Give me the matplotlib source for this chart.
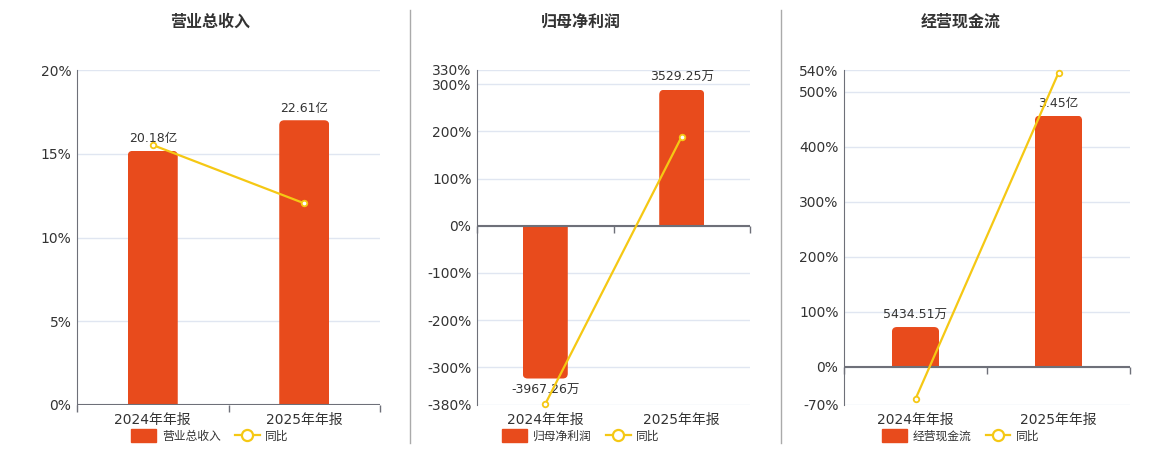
import matplotlib.pyplot as plt
from matplotlib.lines import Line2D
from matplotlib.patches import Patch, FancyBboxPatch, Rectangle
import numpy as np

plt.rcParams['font.family'] = ['DejaVu Sans', 'Noto Sans CJK SC']

periods = ['2024年年报', '2025年年报']

revenue = [20.18, 22.61]  # 亿
revenue_labels = ['20.18亿', '22.61亿']
revenue_yoy = [15.52, 12.04]

profit = [-3967.26, 3529.25]  # 万
profit_labels = ['-3967.26万', '3529.25万']
profit_yoy = [-378.0, 188.96]

cash = [5434.51, 34500.0]  # 万
cash_labels = ['5434.51万', '3.45亿']
cash_yoy = [-59.0, 534.82]

BAR_COLOR = '#E84B1C'
LINE_COLOR = '#F5C814'
AXIS_COLOR = '#6E7079'
GRID_COLOR = '#E0E6F1'
TEXT_COLOR = '#333333'

panels = [
    # title, values, labels, yoy, pct ticks, bar scale (value per 1%), axes left/width px, center x
    ('营业总收入', revenue, revenue_labels, revenue_yoy,
     [0, 5, 10, 15, 20], 1.33, [77, 303], 210),
    ('归母净利润', profit, profit_labels, profit_yoy,
     [-380, -300, -200, -100, 0, 100, 200, 300, 330], 12.25, [477, 273], 581),
    ('经营现金流', cash, cash_labels, cash_yoy,
     [-70, 0, 100, 200, 300, 400, 500, 540], 75.5, [844, 286], 961),
]

W, H = 1160, 450
AX_H = 335
fig = plt.figure(figsize=(W / 100, H / 100), dpi=100)


def rounded_bars(ax, bars, width_px, yrange, radius_px=5):
    # swap plain bars for ones with rounded outer corners only
    xu = (ax.get_xlim()[1] - ax.get_xlim()[0]) / width_px
    yu = yrange / AX_H
    ext = 2 * radius_px * yu
    for b in bars:
        bx, by, bw, bh = b.get_x(), b.get_y(), b.get_width(), b.get_height()
        b.set_visible(False)
        if bh >= 0:
            y0, h = by - ext, bh + ext
        else:
            y0, h = by + bh, -bh + ext
        p = FancyBboxPatch((bx, y0), bw, h,
                           boxstyle=f'round,pad=0,rounding_size={radius_px * xu}',
                           mutation_aspect=yu / xu, facecolor=BAR_COLOR,
                           edgecolor='none', zorder=2)
        ax.add_patch(p)
        clip = Rectangle((bx, by), bw, bh, transform=ax.transData)
        p.set_clip_path(clip)


for title, values, labels, yoy, ticks, scale, (left, width), cx in panels:
    ax = fig.add_axes([left / W, 0.1, width / W, AX_H / H])
    lo, hi = ticks[0], ticks[-1]
    x = np.arange(len(periods))

    # bar axis (hidden scale), grid drawn here so it stays under the bars
    ax.set_xlim(-0.5, len(periods) - 0.5)
    ax.set_ylim(lo * scale, hi * scale)
    ax.set_yticks([t * scale for t in ticks])
    ax.yaxis.grid(True, color=GRID_COLOR, linewidth=1)
    ax.set_axisbelow(True)
    ax.tick_params(axis='y', length=0, labelleft=False)
    for s in ax.spines.values():
        s.set_visible(False)
    bars = ax.bar(x, values, width=0.33, color=BAR_COLOR, zorder=2)
    rounded_bars(ax, bars, width, (hi - lo) * scale)
    for xi, v, lab in zip(x, values, labels):
        off = 4 if v >= 0 else -4
        ax.annotate(lab, (xi, v), xytext=(0, off), textcoords='offset points',
                    ha='center', va='bottom' if v >= 0 else 'top',
                    fontsize=9, color=TEXT_COLOR, zorder=4)
    ax.set_xticks(x)
    ax.set_xticklabels(periods, fontsize=10, color=TEXT_COLOR)
    ax.tick_params(axis='x', length=0, pad=6)

    # zero axis line with small ticks at category boundaries
    ax.axhline(0, color=AXIS_COLOR, linewidth=1.5, zorder=3)
    bounds = np.arange(len(periods) + 1) - 0.5
    ax.plot(bounds, np.zeros_like(bounds), linestyle='none', marker=3, markersize=5,
            markeredgewidth=1, color=AXIS_COLOR, clip_on=False, zorder=3)

    # percentage axis for the yoy line
    ax2 = ax.twinx()
    ax2.set_ylim(lo, hi)
    ax2.set_yticks(ticks)
    ax2.set_yticklabels([f'{t}%' for t in ticks], fontsize=10, color=TEXT_COLOR)
    ax2.yaxis.tick_left()
    ax2.tick_params(axis='y', length=0, pad=4)
    for k, s in ax2.spines.items():
        s.set_visible(k == 'left')
    ax2.spines['left'].set_color(AXIS_COLOR)
    ax2.plot(x, yoy, color=LINE_COLOR, linewidth=1.6, marker='o', markersize=4,
             markerfacecolor='white', markeredgecolor=LINE_COLOR, markeredgewidth=1.3,
             clip_on=False)

    fig.text(cx / W, 1 - 22 / H, title, ha='center', va='center',
             fontsize=11.5, fontweight='bold', color=TEXT_COLOR)

    handles = [Patch(facecolor=BAR_COLOR, edgecolor=BAR_COLOR),
               Line2D([], [], color=LINE_COLOR, linewidth=1.6, marker='o', markersize=8,
                      markerfacecolor='white', markeredgewidth=1.6)]
    fig.legend(handles, [title, '同比'], loc='center', bbox_to_anchor=(cx / W, 1 - 436 / H),
               ncol=2, frameon=False, fontsize=8.5, handlelength=2.1, handleheight=1.3,
               handletextpad=0.5, columnspacing=1.2, labelcolor=TEXT_COLOR)

# separators between panels
for sx in [410, 781]:
    fig.add_artist(Line2D([sx / W, sx / W], [1 - 443 / H, 1 - 10 / H],
                          color='#AAAAAA', linewidth=1))

fig.savefig('out.png', dpi=100)
